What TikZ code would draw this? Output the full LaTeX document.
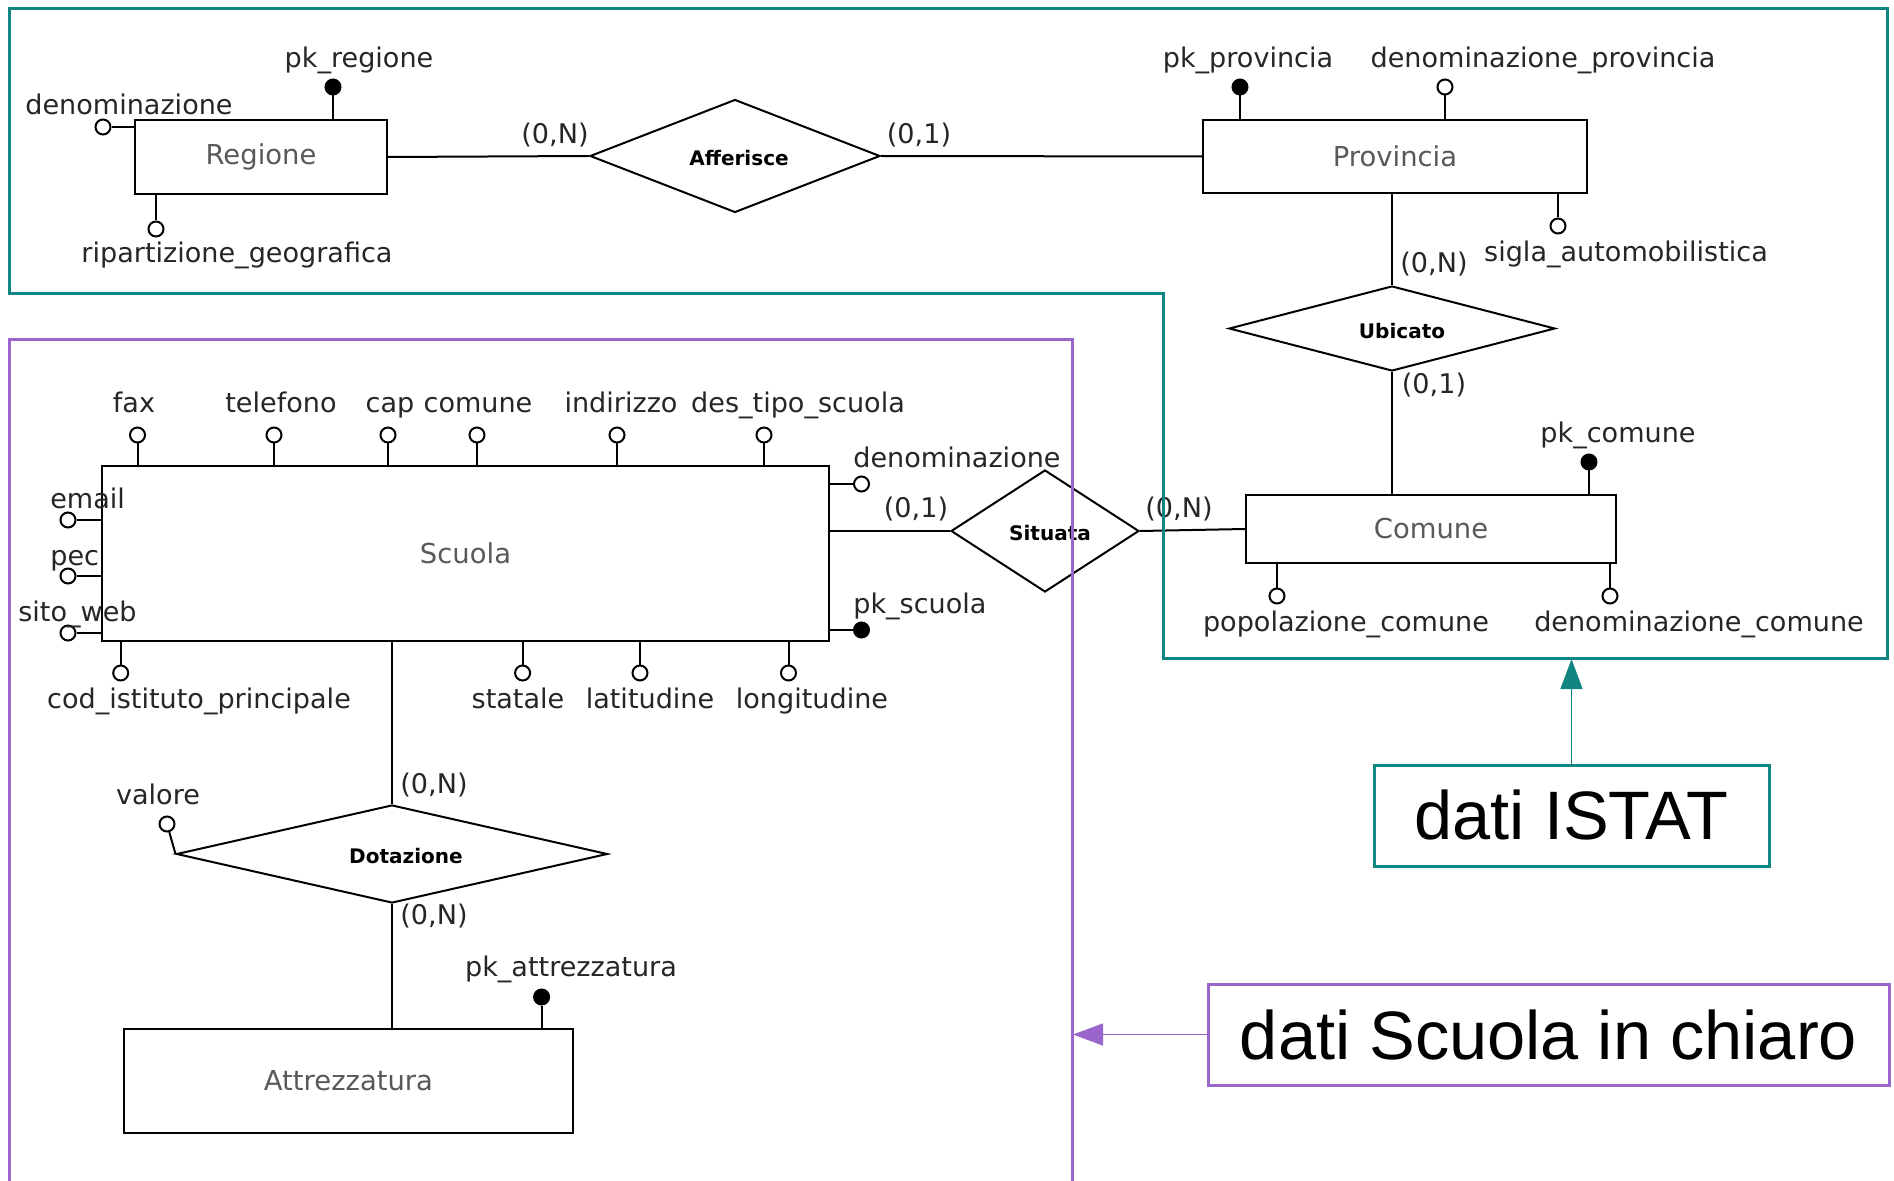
\documentclass[tikz,border=0pt]{standalone}
\usepackage{fontspec}
\setmainfont{DejaVu Sans}
\newfontfamily\notefont{Liberation Sans}
\usetikzlibrary{shapes.geometric,arrows.meta}

\definecolor{istatteal}{RGB}{17,133,128}
\definecolor{scuolaviola}{RGB}{153,102,204}

\tikzset{
    entity/.style={draw, line width=0.4mm, inner sep=0pt, text=black!65,
        font=\fontsize{15.6}{18}\selectfont},
    relation/.style={draw, diamond, line width=0.4mm, inner sep=0pt,
        text height=1.1em, text depth=0em,
        font=\fontsize{11.4}{13}\selectfont\bfseries},
    attr/.style={draw, circle, line width=0.4mm, minimum size=3mm, inner sep=0pt, fill=white},
    keyattr/.style={attr, fill=black},
    attrname/.style={inner sep=0pt, text=black!85, font=\fontsize{15.4}{18}\selectfont,
        text height=0.76em, text depth=0.24em, yshift=-1.2mm},
    link/.style={line width=0.4mm},
    frame/.style={line width=0.6mm},
    note/.style={draw, line width=0.6mm, inner sep=0pt, font=\notefont\fontsize{39}{45}\selectfont},
    notearrow/.style={line width=0.25mm, -{Triangle[length=6mm,width=4.4mm]}}
}

\begin{document}
\begin{tikzpicture}[x=0.2mm, y=-0.2mm]

    % Fix the page to the size of the reference
    \useasboundingbox (0,0) rectangle (1894,1181);

    % Entities
    \node[entity, minimum width=50.4mm, minimum height=14.8mm] (regione) at (261,157) {Regione};
    \node[entity, minimum width=76.8mm, minimum height=14.6mm] (provincia) at (1395,156.5) {Provincia};
    \node[entity, minimum width=74mm, minimum height=13.6mm] (comune) at (1431,529) {Comune};
    \node[entity, minimum width=145.4mm, minimum height=35mm] (scuola) at (465.5,553.5) {Scuola};
    \node[entity, minimum width=89.8mm, minimum height=20.8mm] (attrezzatura) at (348.5,1081) {Attrezzatura};

    % Relationships
    \node[relation, aspect=2.57, minimum width=58mm, minimum height=22.6mm] (afferisce) at (735,156) {\hspace*{1.6mm}Afferisce};
    \node[relation, aspect=3.8, minimum width=65.2mm, minimum height=17mm] (ubicato) at (1392,328.5) {\hspace*{4mm}Ubicato};
    \node[relation, aspect=1.54, minimum width=37.6mm, minimum height=24.4mm] (situata) at (1045,531) {\hspace*{2mm}Situata};
    \node[relation, aspect=4.4, minimum width=86.2mm, minimum height=19.6mm] (dotazione) at (392,854) {\hspace*{5.6mm}Dotazione};

    % Links between entities and relationships
    \draw[link] (regione.east) -- (afferisce.west);
    \draw[link] (afferisce.east) -- (provincia.west);
    \draw[link] (ubicato.north) -- (ubicato.north |- provincia.south);
    \draw[link] (ubicato.south) -- (ubicato.south |- comune.north);
    \draw[link] (situata.west) -- (situata.west -| scuola.east);
    \draw[link] (situata.east) -- (comune.west);
    \draw[link] (dotazione.north) -- (dotazione.north |- scuola.south);
    \draw[link] (dotazione.south) -- (dotazione.south |- attrezzatura.north);

    % Cardinalities
    \node[attrname] (c-reg) at (555,133) {(0,N)};
    \node[attrname] (c-aff) at (919,133) {(0,1)};
    \node[attrname] (c-prov) at (1434,262) {(0,N)};
    \node[attrname] (c-ubi) at (1434,383) {(0,1)};
    \node[attrname] (c-scu) at (916,507) {(0,1)};
    \node[attrname] (c-com) at (1179,507) {(0,N)};
    \node[attrname] (c-dot1) at (434,783) {(0,N)};
    \node[attrname] (c-dot2) at (434,914) {(0,N)};

    % Regione attributes
    \node[keyattr] (a-pkreg) at (333,87) {};
    \node[attr] (a-denreg) at (103,127) {};
    \node[attr] (a-rip) at (156,229) {};
    \draw[link] (a-pkreg) -- (a-pkreg |- regione.north);
    \draw[link] (a-denreg) -- (a-denreg -| regione.west);
    \draw[link] (a-rip) -- (a-rip |- regione.south);
    \node[attrname] (l-pkreg) at (359,57) {pk\_regione};
    \node[attrname, anchor=west] (l-denreg) at (25,104) {denominazione};
    \node[attrname] (l-rip) at (237,252) {ripartizione\_geografica};

    % Provincia attributes
    \node[keyattr] (a-pkprov) at (1240,87) {};
    \node[attr] (a-denprov) at (1445,87) {};
    \node[attr] (a-sigla) at (1558,226) {};
    \draw[link] (a-pkprov) -- (a-pkprov |- provincia.north);
    \draw[link] (a-denprov) -- (a-denprov |- provincia.north);
    \draw[link] (a-sigla) -- (a-sigla |- provincia.south);
    \node[attrname] (l-pkprov) at (1248,57) {pk\_provincia};
    \node[attrname] (l-denprov) at (1543,57) {denominazione\_provincia};
    \node[attrname] (l-sigla) at (1626,251) {sigla\_automobilistica};

    % Comune attributes
    \node[keyattr] (a-pkcom) at (1589,462) {};
    \node[attr] (a-pop) at (1277,596) {};
    \node[attr] (a-dencom) at (1610,596) {};
    \draw[link] (a-pkcom) -- (a-pkcom |- comune.north);
    \draw[link] (a-pop) -- (a-pop |- comune.south);
    \draw[link] (a-dencom) -- (a-dencom |- comune.south);
    \node[attrname] (l-pkcom) at (1618,432) {pk\_comune};
    \node[attrname] (l-pop) at (1346,621) {popolazione\_comune};
    \node[attrname] (l-dencom) at (1699,621) {denominazione\_comune};

    % Scuola attributes on top
    \foreach \name/\px/\lx/\txt in {fax/137.5/134/fax, tel/274/281/telefono, cap/388/390/cap,
        comscu/477/478/comune, ind/617/621/indirizzo, tipo/764/798/des\_tipo\_scuola} {
        \node[attr] (a-\name) at (\px,435) {};
        \draw[link] (a-\name) -- (a-\name |- scuola.north);
        \node[attrname] (l-\name) at (\lx,402) {\txt};
    }

    % Scuola attributes below
    \foreach \name/\px/\lx/\txt in {cod/120.7/199/cod\_istituto\_principale, stat/522.6/518/statale,
        lat/640/650/latitudine, lon/788.5/812/longitudine} {
        \node[attr] (a-\name) at (\px,673) {};
        \draw[link] (a-\name) -- (a-\name |- scuola.south);
        \node[attrname] (l-\name) at (\lx,698) {\txt};
    }

    % Scuola attributes on the left
    \foreach \name/\py/\lx/\ly/\txt in {email/520/50/498/email, pec/576/50/555/pec, web/633/18/611/sito\_web} {
        \node[attr] (a-\name) at (68,\py) {};
        \draw[link] (a-\name) -- (a-\name -| scuola.west);
        \node[attrname, anchor=west] (l-\name) at (\lx,\ly) {\txt};
    }

    % Scuola attributes on the right
    \node[attr] (a-denscu) at (861.5,484) {};
    \node[keyattr] (a-pkscu) at (861.5,630) {};
    \draw[link] (a-denscu) -- (a-denscu -| scuola.east);
    \draw[link] (a-pkscu) -- (a-pkscu -| scuola.east);
    \node[attrname, anchor=west] (l-denscu) at (853,457) {denominazione};
    \node[attrname, anchor=west] (l-pkscu) at (853,603) {pk\_scuola};

    % Dotazione and Attrezzatura attributes
    \node[attr] (a-valore) at (167,824) {};
    \draw[link] (dotazione.west) -- (a-valore);
    \node[attrname] (l-valore) at (158,794) {valore};
    \node[keyattr] (a-pkattr) at (541.6,997) {};
    \draw[link] (a-pkattr) -- (a-pkattr |- attrezzatura.north);
    \node[attrname] (l-pkattr) at (571,966) {pk\_attrezzatura};

    % Frames of the two data sources
    \draw[frame, istatteal] (9,9) -- (1887,9) -- (1887,658) -- (1163,658) -- (1163,294) -- (9,294) -- cycle;
    \draw[frame, scuolaviola] (9,1195) -- (9,340) -- (1072,340) -- (1072,1195);
    \coordinate (istat-frame) at (1571.5,659);
    \coordinate (scuola-frame) at (1073,1034.5);

    % Notes
    \node[note, istatteal, text=black, minimum width=79mm, minimum height=20.2mm] (istat) at (1571.5,815.5) {dati ISTAT};
    \node[note, scuolaviola, text=black, minimum width=136.2mm, minimum height=20.2mm] (chiaro) at (1548.5,1034.5) {dati Scuola in chiaro};
    \draw[notearrow, istatteal] (istat) -- (istat-frame);
    \draw[notearrow, scuolaviola] (chiaro) -- (scuola-frame);

\end{tikzpicture}
\end{document}
